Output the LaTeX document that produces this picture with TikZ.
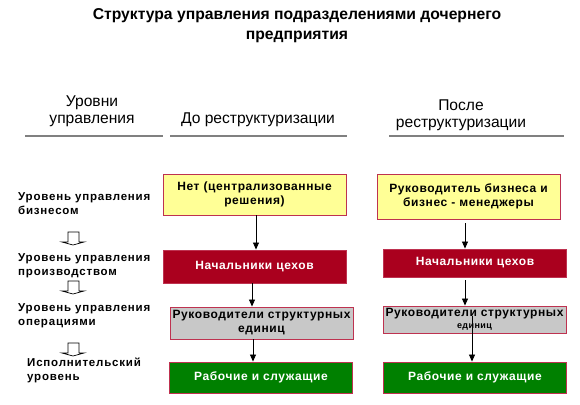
\documentclass[tikz,border=0pt]{standalone}
\usepackage{fontspec}
\setmainfont{Liberation Sans}
\newfontfamily\boxfont[LetterSpace=5]{Liberation Sans}
\newfontfamily\levelfont[LetterSpace=7]{Liberation Sans}
\usetikzlibrary{arrows.meta}
\definecolor{boxyellow}{RGB}{255,255,150}
\definecolor{boxred}{RGB}{170,0,30}
\definecolor{boxgray}{RGB}{200,200,200}
\definecolor{boxgreen}{RGB}{0,128,0}
\definecolor{boxedge}{RGB}{190,50,80}
\definecolor{rulegray}{RGB}{128,128,128}
\begin{document}
\begin{tikzpicture}[x=1pt,y=-1pt,
  titletext/.style={font=\fontsize{15.7}{20}\selectfont\bfseries, align=center, inner sep=0pt},
  headtext/.style={font=\fontsize{15.6}{17}\selectfont, align=center, inner sep=0pt},
  leveltext/.style={font=\levelfont\fontsize{11.5}{14}\selectfont\bfseries, align=left, anchor=west, inner sep=0pt},
  levelbox/.style={draw=boxedge, line width=0.9pt, font=\boxfont\fontsize{12}{14}\selectfont\bfseries,
    align=center, inner sep=0pt, text width=#1, minimum width=#1},
  yellowbox/.style={levelbox=183pt, fill=boxyellow, text=black},
  redbox/.style={levelbox=183pt, fill=boxred, text=white},
  graybox/.style={levelbox=183pt, fill=boxgray, text=black},
  greenbox/.style={levelbox=183pt, fill=boxgreen, text=white},
  headrule/.style={draw=rulegray, line width=2pt},
  arr/.style={draw=black, line width=0.8pt, -{Triangle[width=6pt,length=7pt]}},
  levelarrow/.style={draw=black, line width=0.7pt, fill=white}
]
\useasboundingbox (0,0) rectangle (580,404);

% title
\node[titletext] (title) at (297,26) {Структура управления подразделениями дочернего\\предприятия};

% column headers
\node[headtext] (hlev) at (92,111) {Уровни\\управления};
\node[headtext] (hbefore) at (258,120) {До реструктуризации};
\node[headtext] (hafter) at (461,115) {После\\реструктуризации};
\coordinate (r1a) at (25,136); \coordinate (r1b) at (163,136);
\coordinate (r2a) at (170,136); \coordinate (r2b) at (347,136);
\coordinate (r3a) at (389,136); \coordinate (r3b) at (564,136);
\draw[headrule] (r1a) -- (r1b);
\draw[headrule] (r2a) -- (r2b);
\draw[headrule] (r3a) -- (r3b);

% level labels
\node[leveltext] (l1) at (18,203.5) {Уровень управления\\бизнесом};
\node[leveltext] (l2) at (18,265.5) {Уровень управления\\производством};
\node[leveltext] (l3) at (18,315.5) {Уровень управления\\операциями};
\node[leveltext] (l4) at (27,370.5) {Исполнительский\\уровень};

% small block arrows between level labels
\foreach \t/\n in {232/a1,281/a2,343/a3}{
  \draw[levelarrow] (68,\t) -- (68,\t+10) -- (62,\t+10) -- (73,\t+13) -- (84,\t+10) -- (79,\t+10) -- (79,\t) -- cycle;
}

% before restructuring
\node[yellowbox, minimum height=41pt] (ly) at (254.5,194.5) {Нет (централизованные\\решения)};
\node[redbox, minimum height=33pt] (lr) at (254.5,266.5) {Начальники цехов};
\node[graybox, minimum height=32pt] (lg) at (261.5,323) {Руководители структурных\\единиц};
\node[greenbox, minimum height=31pt] (lw) at (261,377.5) {Рабочие и служащие};

% after restructuring
\node[yellowbox, minimum height=45pt] (ry) at (468.5,196.5) {Руководитель бизнеса и\\бизнес - менеджеры};
\node[redbox, minimum height=28pt] (rr) at (475,263) {Начальники цехов};
\node[graybox, minimum height=27pt, font=\boxfont\fontsize{12}{12}\selectfont\bfseries] (rg) at (474.5,319.5) {Руководители структурных\\{\fontsize{9}{10}\selectfont единиц}};
\node[greenbox, minimum height=31pt] (rw) at (475,377.5) {Рабочие и служащие};

% connectors, before
\draw[arr] ([xshift=1.5pt]ly.south) -- ([xshift=1.5pt]ly.south |- lr.north);
\draw[arr] ([xshift=-2.5pt]lr.south) -- ([xshift=-2.5pt]lr.south |- lg.north);
\draw[arr] ([xshift=-8.5pt]lg.south) -- ([xshift=-8.5pt]lg.south |- lw.north);

% connectors, after
\coordinate (ryout) at ([xshift=-3.5pt,yshift=-4pt]ry.south);
\draw[arr] (ryout) -- (ryout |- rr.north);
\draw[arr] ([xshift=-10pt,yshift=-3pt]rr.south) -- ([xshift=-10pt]rr.south |- rg.north);
\coordinate (rgout) at ([xshift=-2.5pt,yshift=3.5pt]rg.center);
\draw[arr] (rgout) -- (rgout |- rw.north);
\end{tikzpicture}
\end{document}
